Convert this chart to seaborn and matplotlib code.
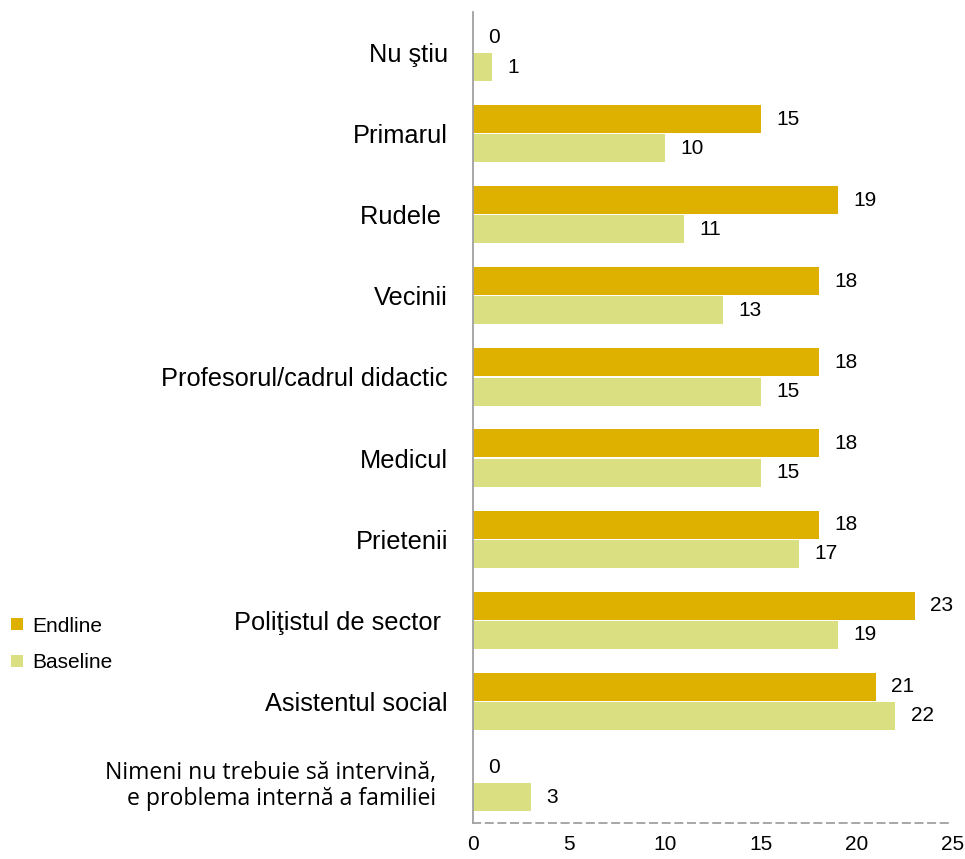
import matplotlib
matplotlib.use("Agg")
import matplotlib.pyplot as plt
from matplotlib.font_manager import FontProperties
import seaborn as sns
import pandas as pd

categories = [
    "Nu ştiu",
    "Primarul",
    "Rudele ",
    "Vecinii",
    "Profesorul/cadrul didactic",
    "Medicul",
    "Prietenii",
    "Poliţistul de sector ",
    "Asistentul social",
    "Nimeni nu trebuie să intervină,  \ne problema internă a familiei  ",
]
endline = [0, 15, 19, 18, 18, 18, 18, 23, 21, 0]
baseline = [1, 10, 11, 13, 15, 15, 17, 19, 22, 3]
series_names = ["Endline", "Baseline"]
colors = ["#DEB000", "#DADF82"]
x_ticks = [0, 5, 10, 15, 20, 25]

rows = []
for c, e, b in zip(categories, endline, baseline):
    rows.append({"cat": c, "series": "Endline", "value": e})
    rows.append({"cat": c, "series": "Baseline", "value": b})
df = pd.DataFrame(rows)

sns.set_style("white")
FAM = ["Liberation Sans", "DejaVu Sans"]
plt.rcParams["font.family"] = FAM
plt.rcParams["text.color"] = "black"
plt.rcParams["xtick.labelcolor"] = "black"
plt.rcParams["ytick.labelcolor"] = "black"

fp_val = FontProperties(family=FAM, size=15)
fp_cat = FontProperties(family=FAM, size=18.3)
fp_last = FontProperties(family=["Open Sans", "DejaVu Sans"], size=16.6)

fig = plt.figure(figsize=(9.65, 8.59), dpi=100)
ax = fig.add_axes([473 / 965, 1 - 823 / 859, 480 / 965, 811 / 859])

sns.barplot(data=df, y="cat", x="value", hue="series", hue_order=series_names,
            order=categories, palette=colors, saturation=1, orient="h",
            width=0.72, gap=0.04, edgecolor="none", linewidth=0, ax=ax)

for cont in ax.containers:
    for t in ax.bar_label(cont, fmt="%d", padding=11, color="black"):
        t.set_fontproperties(fp_val)

ax.set_xlim(0, 25)
ax.set_ylim(9.5, -0.5)
ax.set_xticks(x_ticks)
xl = ax.set_xticklabels([str(t) for t in x_ticks])
for t in xl:
    t.set_fontproperties(fp_val)
    t.set_color("black")
ax.set_xlabel("")
ax.set_ylabel("")
ax.set_yticks(range(len(categories)))
labels = ax.set_yticklabels(categories)
for t in labels[:-1]:
    t.set_fontproperties(fp_cat)
    t.set_color("black")
labels[-1].set_fontproperties(fp_last)
labels[-1].set_color("black")
labels[-1].set_linespacing(1.1)

ax.tick_params(axis="y", length=0, pad=18)
ax.tick_params(axis="x", direction="in", length=5, width=1, color="#a0a0a0", pad=9)

for s in ["top", "right"]:
    ax.spines[s].set_visible(False)
ax.spines["left"].set_color("#a0a0a0")
ax.spines["left"].set_linewidth(1.3)
ax.spines["bottom"].set_color("#a0a0a0")
ax.spines["bottom"].set_linewidth(1.3)
ax.spines["bottom"].set_linestyle((0, (4, 3)))

handles, lbls = ax.get_legend_handles_labels()
if ax.get_legend() is not None:
    ax.get_legend().remove()
leg = fig.legend(handles, lbls, loc="upper left", bbox_to_anchor=(0.003, 0.292),
                 frameon=False, prop=fp_val, handlelength=0.55, handleheight=0.55,
                 handletextpad=0.45, labelspacing=0.85, borderaxespad=0)
for t in leg.get_texts():
    t.set_color("black")

fig.savefig("out.png", dpi=100)
